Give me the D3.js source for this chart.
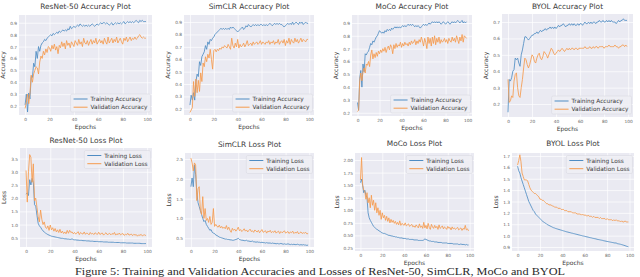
<!DOCTYPE html>
<html><head><meta charset="utf-8">
<script src="https://cdn.jsdelivr.net/npm/d3@7"></script>
<style>body{margin:0;background:#fff}svg{display:block}</style>
</head><body><svg id="c" width="640" height="277"></svg>
<script>
const epochs = d3.range(0, 100);
const xTicks = [0, 20, 40, 60, 80, 100];

const resnetAccTrain = [0.21,0.30,0.15,0.31,0.26,0.45,0.44,0.56,0.53,0.66,0.60,0.70,0.66,0.71,0.73,0.74,0.76,0.75,0.77,0.78,
0.79,0.80,0.79,0.81,0.80,0.81,0.82,0.81,0.83,0.82,0.83,0.84,0.83,0.84,0.83,0.85,0.84,0.87,0.85,0.86,
0.87,0.86,0.87,0.88,0.87,0.89,0.88,0.87,0.88,0.87,0.88,0.87,0.88,0.87,0.88,0.89,0.88,0.87,0.88,0.89,
0.88,0.89,0.90,0.89,0.90,0.90,0.89,0.90,0.89,0.88,0.89,0.90,0.88,0.89,0.90,0.89,0.90,0.89,0.90,0.89,
0.90,0.91,0.89,0.90,0.91,0.90,0.91,0.90,0.91,0.90,0.91,0.92,0.91,0.90,0.92,0.91,0.92,0.91,0.91,0.91];
const resnetAccVal = [0.18,0.23,0.30,0.22,0.31,0.46,0.40,0.47,0.50,0.53,0.52,0.47,0.57,0.62,0.60,0.66,0.63,0.68,0.65,0.70,
0.69,0.66,0.71,0.68,0.72,0.67,0.70,0.64,0.71,0.69,0.74,0.70,0.73,0.68,0.75,0.71,0.73,0.69,0.74,0.72,
0.70,0.75,0.73,0.71,0.76,0.72,0.74,0.70,0.77,0.73,0.72,0.75,0.71,0.74,0.76,0.72,0.75,0.73,0.77,0.72,
0.74,0.76,0.73,0.75,0.72,0.77,0.74,0.72,0.78,0.73,0.75,0.77,0.73,0.76,0.74,0.78,0.73,0.75,0.77,0.74,
0.72,0.77,0.75,0.78,0.74,0.76,0.78,0.75,0.77,0.76,0.78,0.76,0.77,0.79,0.80,0.78,0.77,0.78,0.77,0.77];

const simclrAccTrain = [0.23,0.31,0.27,0.33,0.27,0.42,0.48,0.46,0.58,0.55,0.62,0.64,0.66,0.71,0.68,0.74,0.72,0.76,0.75,0.77,
0.78,0.80,0.81,0.82,0.83,0.84,0.85,0.84,0.85,0.84,0.85,0.84,0.85,0.84,0.86,0.85,0.86,0.85,0.84,0.83,
0.82,0.83,0.84,0.85,0.86,0.84,0.85,0.87,0.86,0.88,0.87,0.86,0.87,0.88,0.87,0.88,0.87,0.88,0.87,0.88,
0.88,0.87,0.88,0.87,0.88,0.87,0.88,0.89,0.88,0.87,0.88,0.89,0.88,0.89,0.88,0.89,0.88,0.88,0.87,0.86,
0.87,0.88,0.89,0.88,0.89,0.88,0.90,0.88,0.89,0.90,0.89,0.88,0.90,0.89,0.90,0.88,0.89,0.90,0.89,0.89];
const simclrAccVal = [0.17,0.19,0.21,0.42,0.30,0.44,0.33,0.43,0.34,0.49,0.42,0.57,0.54,0.62,0.58,0.64,0.61,0.68,0.60,0.52,
0.67,0.68,0.66,0.68,0.67,0.69,0.68,0.70,0.69,0.71,0.70,0.69,0.72,0.70,0.68,0.77,0.71,0.69,0.73,0.70,
0.76,0.69,0.72,0.70,0.71,0.73,0.70,0.72,0.75,0.71,0.72,0.73,0.71,0.74,0.72,0.73,0.74,0.72,0.73,0.75,
0.72,0.74,0.73,0.72,0.74,0.73,0.75,0.72,0.74,0.73,0.75,0.72,0.74,0.73,0.76,0.72,0.74,0.75,0.73,0.76,
0.71,0.75,0.73,0.77,0.72,0.76,0.74,0.73,0.77,0.74,0.76,0.73,0.75,0.77,0.74,0.76,0.75,0.74,0.76,0.76];

const mocoAccTrain = [0.28,0.22,0.47,0.53,0.40,0.58,0.52,0.66,0.65,0.67,0.68,0.71,0.74,0.73,0.76,0.75,0.77,0.79,0.80,0.82,
0.84,0.83,0.82,0.83,0.82,0.84,0.83,0.85,0.84,0.85,0.84,0.86,0.85,0.86,0.87,0.86,0.87,0.86,0.87,0.86,
0.87,0.88,0.87,0.88,0.87,0.88,0.89,0.88,0.89,0.88,0.89,0.88,0.87,0.88,0.87,0.88,0.87,0.86,0.87,0.88,
0.89,0.88,0.89,0.88,0.89,0.90,0.89,0.90,0.91,0.90,0.91,0.90,0.91,0.90,0.91,0.90,0.89,0.90,0.91,0.90,
0.89,0.90,0.91,0.90,0.89,0.90,0.91,0.90,0.91,0.90,0.91,0.92,0.91,0.90,0.91,0.92,0.90,0.91,0.90,0.91];
const mocoAccVal = [0.21,0.22,0.45,0.51,0.45,0.52,0.55,0.51,0.58,0.57,0.60,0.56,0.65,0.69,0.62,0.66,0.63,0.67,0.64,0.68,
0.66,0.69,0.67,0.70,0.68,0.71,0.67,0.70,0.72,0.69,0.73,0.71,0.66,0.73,0.70,0.74,0.71,0.73,0.72,0.75,
0.71,0.74,0.72,0.75,0.73,0.74,0.72,0.75,0.73,0.76,0.74,0.75,0.77,0.73,0.76,0.74,0.77,0.75,0.79,0.76,
0.72,0.78,0.75,0.70,0.79,0.74,0.78,0.72,0.79,0.74,0.80,0.73,0.78,0.75,0.79,0.74,0.77,0.75,0.76,0.78,
0.75,0.77,0.74,0.78,0.76,0.75,0.79,0.76,0.78,0.75,0.80,0.77,0.74,0.79,0.76,0.81,0.75,0.80,0.79,0.78];

const byolAccTrain = [0.15,0.35,0.34,0.36,0.40,0.41,0.48,0.47,0.48,0.45,0.43,0.50,0.53,0.57,0.61,0.61,0.60,0.59,0.60,0.61,
0.62,0.62,0.63,0.63,0.64,0.63,0.64,0.65,0.64,0.65,0.65,0.66,0.65,0.66,0.66,0.67,0.66,0.67,0.66,0.67,
0.66,0.67,0.68,0.67,0.68,0.68,0.69,0.68,0.67,0.68,0.68,0.69,0.68,0.69,0.68,0.69,0.68,0.68,0.69,0.68,
0.69,0.69,0.68,0.69,0.70,0.69,0.69,0.70,0.69,0.70,0.69,0.70,0.70,0.69,0.70,0.70,0.71,0.70,0.70,0.71,
0.70,0.70,0.71,0.70,0.71,0.70,0.71,0.70,0.70,0.70,0.69,0.70,0.71,0.70,0.71,0.71,0.72,0.71,0.71,0.71];
const byolAccVal = [0.35,0.21,0.22,0.25,0.24,0.34,0.38,0.39,0.30,0.25,0.24,0.30,0.35,0.42,0.48,0.47,0.44,0.42,0.44,0.47,
0.50,0.49,0.46,0.45,0.48,0.50,0.51,0.48,0.47,0.49,0.52,0.51,0.50,0.48,0.50,0.52,0.54,0.53,0.51,0.50,
0.51,0.52,0.53,0.52,0.53,0.54,0.53,0.52,0.53,0.54,0.53,0.54,0.53,0.54,0.54,0.53,0.54,0.54,0.53,0.54,
0.54,0.54,0.54,0.54,0.55,0.54,0.54,0.54,0.55,0.54,0.54,0.55,0.54,0.55,0.55,0.54,0.55,0.55,0.55,0.55,
0.54,0.55,0.55,0.55,0.56,0.55,0.55,0.55,0.55,0.56,0.55,0.55,0.54,0.55,0.55,0.56,0.56,0.55,0.56,0.55];

const resnetLossTrain = [2.15,2.20,2.10,2.70,2.50,2.75,2.60,1.75,1.70,1.35,1.05,0.95,0.90,0.82,0.76,0.72,0.68,0.65,0.62,0.60,
0.58,0.56,0.55,0.54,0.53,0.52,0.51,0.50,0.49,0.48,0.48,0.47,0.46,0.46,0.45,0.45,0.44,0.44,0.46,0.43,
0.42,0.42,0.41,0.41,0.40,0.40,0.40,0.39,0.39,0.39,0.38,0.38,0.38,0.37,0.37,0.37,0.36,0.36,0.36,0.36,
0.35,0.35,0.35,0.35,0.34,0.34,0.34,0.34,0.33,0.33,0.33,0.33,0.33,0.32,0.32,0.32,0.32,0.32,0.31,0.31,
0.31,0.31,0.31,0.30,0.30,0.30,0.30,0.30,0.30,0.29,0.29,0.29,0.29,0.29,0.29,0.28,0.28,0.28,0.28,0.28];
const resnetLossVal = [3.05,1.85,3.00,3.65,3.55,2.60,3.30,1.90,2.00,1.65,1.30,1.10,1.55,1.20,1.00,1.10,0.90,0.85,0.95,0.78,
0.98,0.80,0.88,0.75,0.85,0.72,0.80,0.70,0.82,0.68,0.75,0.66,0.72,0.65,0.78,0.67,0.78,0.70,0.72,0.65,
0.70,0.64,0.68,0.73,0.62,0.70,0.66,0.64,0.72,0.63,0.68,0.66,0.61,0.70,0.64,0.67,0.62,0.69,0.65,0.63,
0.71,0.62,0.66,0.68,0.60,0.65,0.69,0.62,0.64,0.67,0.61,0.66,0.63,0.70,0.60,0.65,0.62,0.68,0.61,0.64,
0.66,0.59,0.63,0.61,0.67,0.60,0.62,0.64,0.58,0.63,0.60,0.62,0.56,0.61,0.59,0.63,0.57,0.60,0.61,0.58];

const simclrLossTrain = [1.80,2.02,1.80,2.35,2.10,1.65,1.40,1.30,1.20,1.10,1.00,0.92,0.95,0.85,0.80,0.75,0.70,0.72,0.65,0.63,
0.62,0.58,0.57,0.55,0.53,0.52,0.51,0.50,0.49,0.48,0.48,0.47,0.47,0.46,0.46,0.45,0.45,0.46,0.47,0.48,
0.50,0.47,0.46,0.45,0.45,0.44,0.44,0.45,0.43,0.43,0.42,0.42,0.43,0.41,0.41,0.40,0.41,0.40,0.40,0.39,
0.40,0.39,0.39,0.38,0.39,0.38,0.38,0.38,0.37,0.38,0.37,0.37,0.36,0.37,0.36,0.36,0.37,0.36,0.35,0.36,
0.35,0.35,0.36,0.35,0.34,0.35,0.34,0.35,0.34,0.34,0.35,0.34,0.33,0.34,0.33,0.34,0.33,0.33,0.32,0.33];
const simclrLossVal = [2.52,2.40,2.20,2.40,2.35,1.45,1.75,1.80,1.20,1.10,1.55,1.00,1.25,0.95,1.00,0.90,1.05,0.85,0.90,1.25,
0.80,0.85,0.80,0.78,0.83,0.76,0.80,0.75,0.78,0.74,0.82,0.72,0.78,0.70,0.65,0.75,0.70,0.73,0.68,0.72,
0.78,0.69,0.72,0.67,0.70,0.74,0.68,0.71,0.66,0.70,0.73,0.67,0.69,0.65,0.71,0.68,0.66,0.70,0.64,0.68,
0.72,0.65,0.67,0.69,0.63,0.68,0.66,0.70,0.64,0.67,0.65,0.69,0.63,0.66,0.68,0.62,0.67,0.64,0.66,0.69,
0.63,0.65,0.67,0.62,0.66,0.64,0.68,0.62,0.65,0.63,0.67,0.61,0.64,0.66,0.62,0.64,0.63,0.65,0.61,0.62];

const mocoLossTrain = [1.55,1.62,1.50,1.35,1.40,1.30,1.25,0.95,0.85,0.80,0.76,0.72,0.68,0.66,0.64,0.62,0.61,0.59,0.58,0.56,
0.55,0.54,0.54,0.53,0.52,0.51,0.50,0.50,0.49,0.49,0.48,0.48,0.47,0.47,0.46,0.46,0.45,0.45,0.45,0.44,
0.44,0.44,0.43,0.43,0.43,0.42,0.42,0.42,0.42,0.41,0.41,0.41,0.41,0.40,0.40,0.40,0.40,0.40,0.41,0.43,
0.42,0.41,0.40,0.39,0.39,0.38,0.38,0.38,0.37,0.37,0.37,0.36,0.36,0.36,0.36,0.35,0.35,0.35,0.35,0.35,
0.34,0.34,0.34,0.34,0.34,0.33,0.33,0.33,0.33,0.33,0.32,0.32,0.33,0.32,0.32,0.32,0.31,0.32,0.31,0.31];
const mocoLossVal = [1.60,2.05,1.50,1.40,1.38,1.22,1.35,1.15,1.25,1.05,1.30,1.10,1.20,1.00,1.15,0.95,1.05,0.90,1.00,0.82,
0.95,0.85,0.90,0.80,0.88,0.78,0.85,0.75,0.82,0.76,0.80,0.74,0.78,0.72,0.76,0.71,0.79,0.70,0.74,0.72,
0.70,0.75,0.69,0.71,0.73,0.68,0.70,0.72,0.67,0.69,0.66,0.71,0.68,0.65,0.73,0.66,0.69,0.64,0.76,0.65,
0.70,0.63,0.74,0.66,0.62,0.72,0.67,0.64,0.70,0.65,0.68,0.62,0.71,0.64,0.66,0.69,0.63,0.67,0.65,0.62,
0.68,0.64,0.66,0.61,0.67,0.63,0.65,0.62,0.64,0.66,0.61,0.63,0.65,0.60,0.64,0.62,0.70,0.61,0.63,0.59];

const byolLossTrain = [1.61,1.57,1.55,1.51,1.48,1.45,1.42,1.39,1.36,1.33,1.30,1.28,1.26,1.24,1.22,1.21,1.19,1.18,1.17,1.16,
1.15,1.14,1.13,1.12,1.115,1.11,1.10,1.095,1.09,1.085,1.08,1.075,1.07,1.067,1.063,1.06,1.057,1.054,1.051,1.048,
1.045,1.042,1.039,1.036,1.033,1.031,1.028,1.026,1.023,1.021,1.018,1.016,1.013,1.011,1.008,1.006,1.003,1.001,0.998,0.996,
0.994,0.991,0.989,0.987,0.984,0.982,0.980,0.977,0.975,0.973,0.971,0.968,0.966,0.964,0.962,0.960,0.958,0.955,0.953,0.951,
0.949,0.947,0.945,0.943,0.941,0.939,0.937,0.935,0.936,0.930,0.928,0.926,0.924,0.921,0.918,0.915,0.912,0.908,0.905,0.902];
const byolLossVal = [1.62,1.66,1.71,1.65,1.55,1.52,1.49,1.49,1.49,1.48,1.45,1.42,1.40,1.39,1.38,1.37,1.37,1.36,1.35,1.34,
1.32,1.32,1.31,1.31,1.30,1.29,1.28,1.28,1.27,1.27,1.27,1.26,1.26,1.25,1.25,1.25,1.24,1.24,1.24,1.23,
1.23,1.23,1.22,1.22,1.22,1.21,1.21,1.21,1.21,1.20,1.20,1.20,1.20,1.19,1.19,1.19,1.19,1.18,1.19,1.18,
1.18,1.18,1.17,1.18,1.17,1.17,1.17,1.16,1.17,1.16,1.16,1.16,1.16,1.15,1.16,1.15,1.15,1.15,1.15,1.14,
1.15,1.14,1.14,1.14,1.14,1.13,1.14,1.13,1.14,1.13,1.13,1.13,1.12,1.13,1.12,1.12,1.13,1.12,1.12,1.12];

const accTicks = [0.2,0.3,0.4,0.5,0.6,0.7,0.8,0.9];
const byolAccTicks = [0.2,0.3,0.4,0.5,0.6,0.7];
const resnetLossTicks = [0.5,1.0,1.5,2.0,2.5,3.0,3.5];
const simclrLossTicks = [0.5,1.0,1.5,2.0,2.5];
const mocoLossTicks = [0.25,0.50,0.75,1.00,1.25,1.50,1.75,2.00];
const byolLossTicks = [0.9,1.0,1.1,1.2,1.3,1.4,1.5,1.6,1.7];

const titles = ["ResNet-50 Accuracy Plot","SimCLR Accuracy Plot","MoCo Accuracy Plot","BYOL Accuracy Plot",
  "ResNet-50 Loss Plot","SimCLR Loss Plot","MoCo Loss Plot","BYOL Loss Plot"];
const caption = "Figure 5: Training and Validation Accuracies and Losses of ResNet-50, SimCLR, MoCo and BYOL";

const panels = [
  {r:[19,15,152,115], dom:[0.125,0.965], ticks:accTicks, fmt:".1f", s:[resnetAccTrain,resnetAccVal], kind:"acc", leg:"lr", ty:6},
  {r:[184,15,314,115], dom:[0.15,0.957], ticks:accTicks, fmt:".1f", s:[simclrAccTrain,simclrAccVal], kind:"acc", leg:"lr", ty:6},
  {r:[352,15,472,116], dom:[0.175,0.962], ticks:accTicks, fmt:".1f", s:[mocoAccTrain,mocoAccVal], kind:"acc", leg:"lr", ty:6},
  {r:[502,14,633,117], dom:[0.121,0.749], ticks:byolAccTicks, fmt:".1f", s:[byolAccTrain,byolAccVal], kind:"acc", leg:"lr", ty:6},
  {r:[20,148,152,247], dom:[0.15,3.9], ticks:resnetLossTicks, fmt:".1f", s:[resnetLossTrain,resnetLossVal], kind:"loss", leg:"ur", ty:140},
  {r:[185,153,314,247], dom:[0.28,2.65], ticks:simclrLossTicks, fmt:".1f", s:[simclrLossTrain,simclrLossVal], kind:"loss", leg:"ur", ty:144},
  {r:[355,153,474,251], dom:[0.19,2.14], ticks:mocoLossTicks, fmt:".2f", s:[mocoLossTrain,mocoLossVal], kind:"loss", leg:"ur", ty:143},
  {r:[512,153,634,251], dom:[0.865,1.726], ticks:byolLossTicks, fmt:".1f", s:[byolLossTrain,byolLossVal], kind:"loss", leg:"ur", ty:143}
];

const svg = d3.select("#c");
const C_TRAIN = "#4f8cc3", C_VAL = "#f59b4e", TXT = "#3a3a3a";

panels.forEach((p, i) => {
  const [x0,y0,x1,y1] = p.r;
  const x = d3.scaleLinear().domain([-5,104]).range([x0,x1]);
  const y = d3.scaleLinear().domain(p.dom).range([y1,y0]);
  const g = svg.append("g");
  g.append("rect").attr("x",x0).attr("y",y0).attr("width",x1-x0).attr("height",y1-y0).attr("fill","#EAEAF2");
  g.append("g").attr("transform",`translate(0,${y1})`)
    .call(d3.axisBottom(x).tickValues(xTicks).tickSize(-(y1-y0)).tickFormat(d3.format("d")))
    .call(a=>{a.select(".domain").remove();a.selectAll("line").attr("stroke","#fff").attr("stroke-width",0.7);
      a.selectAll("text").attr("dy",0).attr("y",5.5).attr("fill","#666").style("font-size","4.3px").style("font-family","DejaVu Sans");});
  g.append("g").attr("transform",`translate(${x0},0)`)
    .call(d3.axisLeft(y).tickValues(p.ticks).tickSize(-(x1-x0)).tickFormat(d3.format(p.fmt)))
    .call(a=>{a.select(".domain").remove();a.selectAll("line").attr("stroke","#fff").attr("stroke-width",0.7);
      a.selectAll("text").attr("x",-2).attr("dy","0.35em").attr("fill","#666").style("font-size","4.3px").style("font-family","DejaVu Sans");});
  const line = d3.line().x((d,k)=>x(epochs[k])).y(d=>y(d));
  const clip = "clip"+i;
  g.append("clipPath").attr("id",clip).append("rect").attr("x",x0).attr("y",y0).attr("width",x1-x0).attr("height",y1-y0);
  const lg = g.append("g").attr("clip-path",`url(#${clip})`);
  lg.append("path").datum(p.s[0]).attr("d",line).attr("fill","none").attr("stroke",C_TRAIN).attr("stroke-width",0.85).attr("stroke-linejoin","round");
  lg.append("path").datum(p.s[1]).attr("d",line).attr("fill","none").attr("stroke",C_VAL).attr("stroke-width",0.85).attr("stroke-linejoin","round");
  g.append("text").attr("x",(x0+x1)/2).attr("y",p.ty).attr("dy","0.35em").attr("text-anchor","middle")
    .attr("fill",TXT).style("font-family","DejaVu Sans").style("font-size","7.4px").text(titles[i]);
  g.append("text").attr("x",(x0+x1)/2).attr("y",y1+12).attr("dy","0.35em").attr("text-anchor","middle")
    .attr("fill",TXT).style("font-family","DejaVu Sans").style("font-size","6px").text("Epochs");
  const yl = p.kind==="acc" ? "Accuracy" : "Loss";
  const tw = d3.max(p.ticks, t=>d3.format(p.fmt)(t).length)*2.7;
  g.append("text").attr("transform",`translate(${x0-tw-5.5},${(y0+y1)/2}) rotate(-90)`).attr("text-anchor","middle")
    .attr("fill",TXT).style("font-family","DejaVu Sans").style("font-size","6px").text(yl);
  const names = p.kind==="acc" ? ["Training Accuracy","Validation Accuracy"] : ["Training Loss","Validation Loss"];
  const leg = g.append("g");
  const fs = 5.8;
  const texts = names.map((n,k)=>leg.append("text").attr("fill",TXT).style("font-family","DejaVu Sans").style("font-size",fs+"px").text(n));
  const tws = d3.max(texts, t=>t.node().getComputedTextLength());
  const lw = 3 + 14 + 3 + tws + 3, lh = 18;
  const lx = x1 - 1.5 - lw;
  const ly = p.leg==="lr" ? y1 - 3 - lh : y0 + 2.5;
  leg.insert("rect","text").attr("x",lx).attr("y",ly).attr("width",lw).attr("height",lh).attr("rx",1.5)
    .attr("fill","#eeeef4").attr("fill-opacity",0.9).attr("stroke","#d6d6de").attr("stroke-width",0.5);
  [C_TRAIN,C_VAL].forEach((c,k)=>{
    const yy = ly + 5 + k*8.2;
    leg.append("line").attr("x1",lx+3).attr("x2",lx+17).attr("y1",yy).attr("y2",yy).attr("stroke",c).attr("stroke-width",1);
    texts[k].attr("x",lx+20).attr("y",yy).attr("dy","0.35em");
  });
});

svg.append("text").attr("x",320).attr("y",271).attr("dy","0.35em").attr("text-anchor","middle")
  .attr("textLength",490).attr("lengthAdjust","spacingAndGlyphs")
  .attr("fill","#2a2a2a").style("font-family","Liberation Serif").style("font-size","10.5px").text(caption);
</script></body></html>
